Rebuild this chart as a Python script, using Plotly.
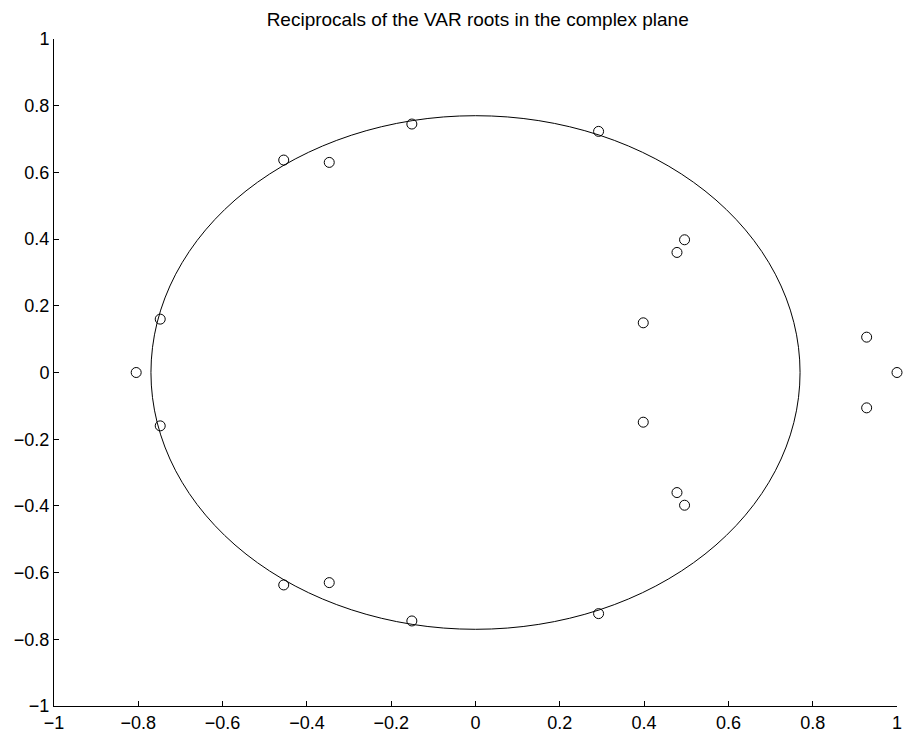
import plotly.graph_objects as go

title = "Reciprocals of the VAR roots in the complex plane"

# Reciprocal roots (real, imaginary parts)
root_re = [-0.805, -0.748, -0.748, -0.455, -0.455, -0.347, -0.347, -0.151, -0.151,
           0.292, 0.292, 0.496, 0.496, 0.478, 0.478, 0.398, 0.398, 0.928, 0.928, 1.0]
root_im = [0.0, 0.160, -0.160, 0.637, -0.637, 0.630, -0.630, 0.745, -0.745,
           0.723, -0.723, 0.398, -0.398, 0.360, -0.360, 0.149, -0.149, 0.106, -0.106, 0.0]

circle_radius = 0.77

x_ticks = [-1, -0.8, -0.6, -0.4, -0.2, 0, 0.2, 0.4, 0.6, 0.8, 1]
y_ticks = [-1, -0.8, -0.6, -0.4, -0.2, 0, 0.2, 0.4, 0.6, 0.8, 1]
tick_text = ["\u22121", "\u22120.8", "\u22120.6", "\u22120.4", "\u22120.2", "0",
             "0.2", "0.4", "0.6", "0.8", "1"]

FONT = "Liberation Sans, Arial, Helvetica, sans-serif"

fig = go.Figure()

fig.add_shape(type="circle", xref="x", yref="y",
              x0=-circle_radius, x1=circle_radius,
              y0=-circle_radius, y1=circle_radius,
              line=dict(color="black", width=1), layer="below")

fig.add_trace(go.Scatter(
    x=root_re, y=root_im, mode="markers",
    marker=dict(symbol="circle-open", size=10, color="black", line=dict(width=1)),
    cliponaxis=False, showlegend=False, hoverinfo="x+y",
))

axis_common = dict(
    showgrid=False, zeroline=False, showline=True, linecolor="black", linewidth=1,
    ticks="inside", ticklen=5, tickcolor="black", tickwidth=1, mirror=False,
    automargin=False, ticklabeloverflow="allow",
    tickfont=dict(family=FONT, size=18, color="black"),
)

fig.update_xaxes(range=[-1, 1], tickmode="array", tickvals=x_ticks, ticktext=tick_text,
                 **axis_common)
fig.update_yaxes(range=[-1, 1], tickmode="array", tickvals=y_ticks, ticktext=tick_text,
                 **axis_common)

fig.update_layout(
    width=903, height=735,
    margin=dict(l=54, r=6, t=39, b=29),
    paper_bgcolor="white", plot_bgcolor="white",
    title=dict(text=title, x=0.529, xanchor="center", y=0.974, yanchor="middle",
               font=dict(family=FONT, size=19, color="black")),
)

fig.write_html("out.html",
               config={"displayModeBar": False},
               post_script="document.body.style.margin='0';document.body.style.overflow='hidden';")
